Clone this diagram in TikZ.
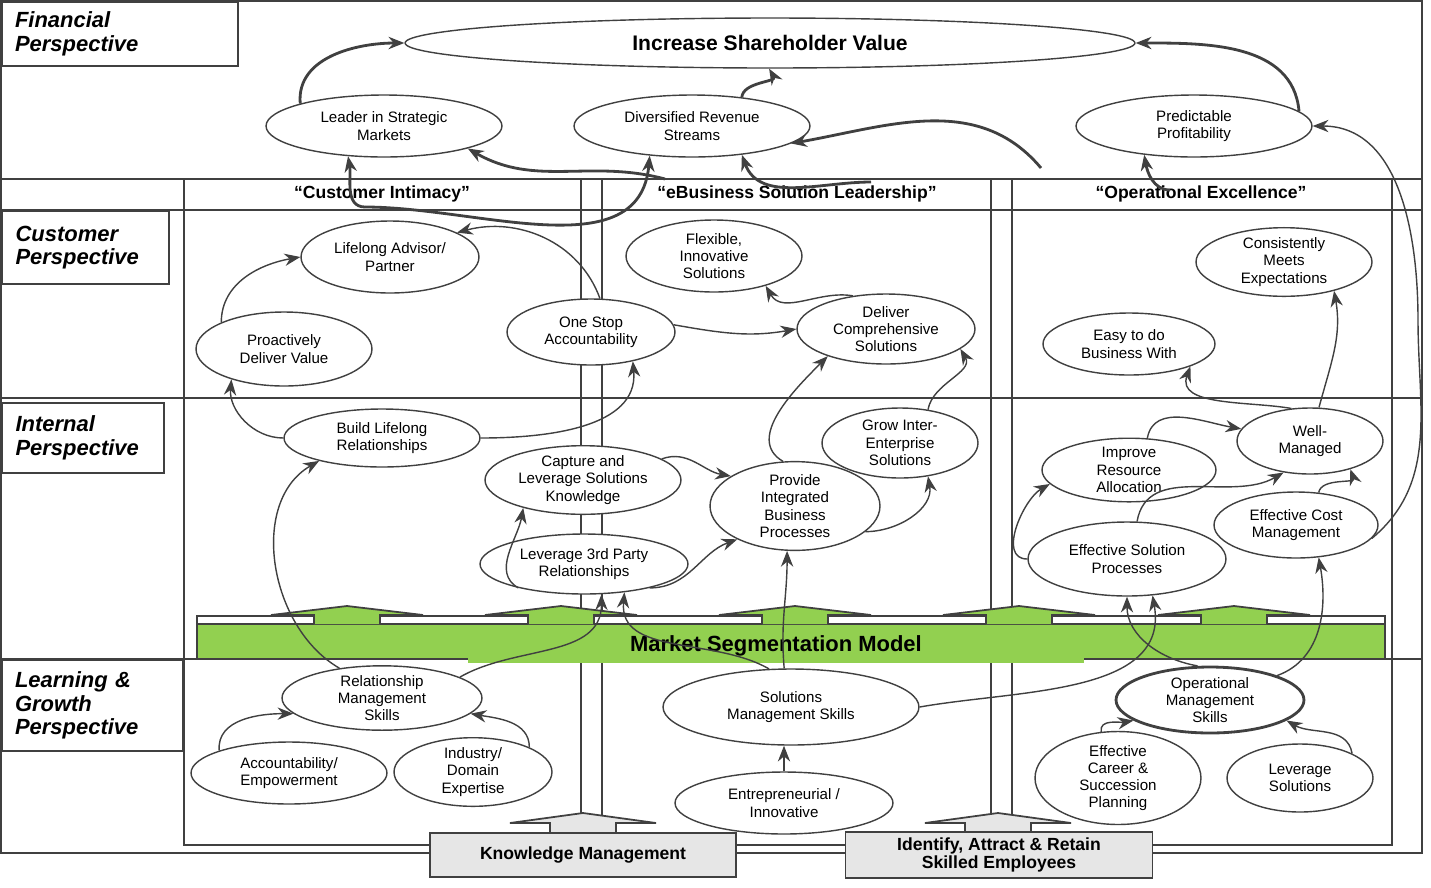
\documentclass[tikz,border=0pt]{standalone}
\usepackage{fontspec}
\setmainfont{Liberation Sans}
\usetikzlibrary{shapes.geometric,arrows.meta}

\definecolor{lineGray}{HTML}{404040}
\definecolor{bandGreen}{HTML}{92D050}
\definecolor{boxGray}{HTML}{E6E6E6}

\begin{document}
\begin{tikzpicture}[x=0.02cm, y=-0.02cm,
    goal/.style={ellipse, draw=lineGray, thick, fill=white, inner sep=0pt, align=center,
        font=\fontsize{8.6}{9.8}\selectfont},
    persp/.style={draw=lineGray, line width=1.2pt, fill=white, anchor=north west, align=left,
        inner sep=0pt, font=\fontsize{12.5}{13.5}\selectfont\bfseries\itshape},
    head/.style={font=\fontsize{10}{11}\selectfont\bfseries},
    link/.style={-{Stealth[length=9pt,width=7pt]}, draw=lineGray, line width=0.8pt},
    big/.style={link, line width=1.6pt},
    uparrow/.style={draw=lineGray, line width=1pt, fill=bandGreen}]
    \useasboundingbox (0,0) rectangle (1431,887);

    % Frame and grid
    \draw[lineGray, line width=1pt] (1,1) rectangle (1422,853);
    \draw[lineGray, line width=1pt] (184,179) rectangle (1392,845);
    \foreach \y in {179,210,398,659}
        \draw[lineGray, line width=1pt] (1,\y) -- (1422,\y);
    \foreach \x in {581,602,991,1012}
        \draw[lineGray, line width=1pt] (\x,179) -- (\x,845);

    % Perspectives
    \node[persp, minimum width=4.72cm, minimum height=1.28cm, text width=4.6cm] (fin) at (1,1) {\hspace{0.2cm}Financial\\\hspace{0.2cm}Perspective};
    \node[persp, minimum width=3.34cm, minimum height=1.46cm, text width=3.2cm] (cus) at (1,210) {\hspace{0.2cm}Customer\\\hspace{0.2cm}Perspective};
    \node[persp, minimum width=3.24cm, minimum height=1.40cm, text width=3.1cm] (int) at (1,402) {\hspace{0.2cm}Internal\\\hspace{0.2cm}Perspective};
    \node[persp, minimum width=3.62cm, minimum height=1.82cm, text width=3.5cm] (lrn) at (1,659) {\hspace{0.2cm}Learning \&\\\hspace{0.2cm}Growth\\\hspace{0.2cm}Perspective};

    % Column headers
    \node[head] (h1) at (382,194) {“Customer Intimacy”};
    \node[head] (h2) at (797,194) {“eBusiness Solution Leadership”};
    \node[head] (h3) at (1201,194) {“Operational Excellence”};

    % Market segmentation band
    \draw[lineGray, line width=1pt, fill=white] (197,616) rectangle (1385,624);
    \draw[uparrow] (197,624) rectangle (1385,659);
    \foreach \c in {347,561,795,1019,1234}
        \draw[uparrow] (\c-33,624) -- (\c-33,615) -- (\c-76,615) -- (\c,606) -- (\c+76,615) -- (\c+33,615) -- (\c+33,624);
    \fill[bandGreen] (468,626) rectangle (1084,663);
    \node[font=\fontsize{12.5}{14}\selectfont\bfseries] (msm) at (776,646) {Market Segmentation Model};

    % Bottom enablers
    \foreach \c in {583,998}
        \draw[draw=lineGray, line width=1pt, fill=boxGray] (\c-33,833) -- (\c-33,823) -- (\c-73,823) -- (\c,813) -- (\c+73,823) -- (\c+33,823) -- (\c+33,833);
    \node[draw=lineGray, line width=1pt, fill=boxGray, minimum width=6.12cm, minimum height=0.88cm,
        font=\fontsize{10}{11}\selectfont\bfseries] (km) at (583,855) {Knowledge Management};
    \node[draw=lineGray, line width=1pt, fill=boxGray, minimum width=6.14cm, minimum height=0.88cm, align=center,
        font=\fontsize{10}{10.5}\selectfont\bfseries] (iar) at (999,855) {Identify, Attract \& Retain\\Skilled Employees};

    % Financial
    \node[goal, minimum width=14.6cm, minimum height=1.0cm, font=\fontsize{12}{13}\selectfont\bfseries] (isv) at (770,43) {Increase Shareholder Value};
    \node[goal, minimum width=4.72cm, minimum height=1.24cm] (lsm) at (384,126) {Leader in Strategic\\Markets};
    \node[goal, minimum width=4.72cm, minimum height=1.24cm] (drs) at (692,126) {Diversified Revenue\\Streams};
    \node[goal, minimum width=4.72cm, minimum height=1.24cm] (pp) at (1194,126) {Predictable\\Profitability};

    % Customer
    \node[goal, minimum width=3.56cm, minimum height=1.44cm] (lap) at (390,257) {Lifelong Advisor/\\Partner};
    \node[goal, minimum width=3.52cm, minimum height=1.48cm] (pdv) at (284,349) {Proactively\\Deliver Value};
    \node[goal, minimum width=3.36cm, minimum height=1.32cm] (osa) at (591,332) {One Stop\\Accountability};
    \node[goal, minimum width=3.52cm, minimum height=1.44cm] (fis) at (714,256) {Flexible,\\Innovative\\Solutions};
    \node[goal, minimum width=3.56cm, minimum height=1.40cm] (dcs) at (886,329) {Deliver\\Comprehensive\\Solutions};
    \node[goal, minimum width=3.52cm, minimum height=1.24cm] (cme) at (1284,262) {Consistently\\Meets\\Expectations};
    \node[goal, minimum width=3.44cm, minimum height=1.24cm] (edb) at (1129,344) {Easy to do\\Business With};

    % Internal
    \node[goal, minimum width=3.92cm, minimum height=1.16cm] (blr) at (382,438) {Build Lifelong\\Relationships};
    \node[goal, minimum width=3.92cm, minimum height=1.20cm] (cls) at (583,480) {Capture and\\Leverage Solutions\\Knowledge};
    \node[goal, minimum width=3.12cm, minimum height=1.40cm] (gie) at (900,443) {Grow Inter-\\Enterprise\\Solutions};
    \node[goal, minimum width=3.40cm, minimum height=1.52cm] (pib) at (795,506) {Provide\\Integrated\\Business\\Processes};
    \node[goal, minimum width=4.16cm, minimum height=1.20cm] (ltp) at (584,564) {Leverage 3rd Party\\Relationships};
    \node[goal, minimum width=3.48cm, minimum height=1.24cm] (ira) at (1129,470) {Improve\\Resource\\Allocation};
    \node[goal, minimum width=2.92cm, minimum height=1.32cm] (wm) at (1310,441) {Well-\\Managed};
    \node[goal, minimum width=3.28cm, minimum height=1.32cm] (ecm) at (1296,525) {Effective Cost\\Management};
    \node[goal, minimum width=3.96cm, minimum height=1.48cm] (esp) at (1127,559) {Effective Solution\\Processes};

    % Learning & growth
    \node[goal, minimum width=4.0cm, minimum height=1.28cm] (rms) at (382,698) {Relationship\\Management\\Skills};
    \node[goal, minimum width=3.92cm, minimum height=1.24cm] (ace) at (289,773) {Accountability/\\Empowerment};
    \node[goal, minimum width=3.16cm, minimum height=1.24cm] (ide) at (473,772) {Industry/\\Domain\\Expertise};
    \node[goal, minimum width=5.12cm, minimum height=1.52cm] (sms) at (791,707) {Solutions\\Management Skills};
    \node[goal, minimum width=4.36cm, minimum height=1.24cm] (eni) at (784,803) {Entrepreneurial /\\Innovative};
    \node[goal, minimum width=3.76cm, minimum height=1.32cm, line width=1.6pt] (oms) at (1210,700) {Operational\\Management\\Skills};
    \node[goal, minimum width=3.32cm, minimum height=1.40cm] (ecs) at (1118,778) {Effective\\Career \&\\Succession\\Planning};
    \node[goal, minimum width=2.92cm, minimum height=1.36cm] (lvs) at (1300,778) {Leverage\\Solutions};

    % Free ends
    \coordinate (ci) at (365,207);
    \coordinate (eb1) at (665,179);
    \coordinate (eb2) at (871,182);
    \coordinate (eb3) at (1041,168);
    \coordinate (oe) at (1170,190);

    % Financial links
    \draw[big] (lsm.165) to[out=95,in=180] (isv.west);
    \draw[big] (drs.30) to[out=85,in=-60] (isv.-92);
    \draw[big] (pp.8) to[out=95,in=0] (isv.east);
    \draw[big] (ci) to[out=180,in=-80] (lsm.-140);
    \draw[big] (ci) to[out=0,in=-95] (drs.-145);
    \draw[big] (eb1) to[out=165,in=-30] (lsm.-15);
    \draw[big] (eb2) to[out=180,in=-70] (drs.-30);
    \draw[big] (eb3) to[out=130,in=10] (drs.-10);
    \draw[big] (oe) to[out=180,in=-80] (pp.-150);

    % Customer links
    \draw[link] (pdv.north west) to[out=90,in=190] (lap.west);
    \draw[link] (osa.75) to[out=110,in=15] (lap.20);
    \draw[link] (osa.5) to[out=-10,in=190] (dcs.west);
    \draw[link] (dcs.135) to[out=170,in=-60] (fis.-30);
    \draw[link] (blr.west) to[out=180,in=-95] (pdv.-150);
    \draw[link] (blr.east) to[out=0,in=-85] (osa.-35);
    \draw[link] (wm.120) to[out=170,in=-110] (edb.-20);
    \draw[link] (wm.75) to[out=75,in=-80] (cme.-30);

    % Internal links
    \draw[link] (pib.105) to[out=150,in=-135] (dcs.-155);
    \draw[link] (gie.50) to[out=80,in=-60] (dcs.-15);
    \draw[link] (cls.15) to[out=20,in=170] (pib.155);
    \draw[link] (ltp.-20) to[out=0,in=-160] (pib.-150);
    \draw[link] (ltp.-160) to[out=150,in=-100] (cls.-155);
    \draw[link] (pib.-20) to[out=0,in=-80] (gie.-50);
    \draw[link] (esp.west) to[out=180,in=-150] (ira.-170);
    \draw[link] (esp.75) to[out=80,in=-150] (wm.-130);
    \draw[link] (ira.60) to[out=80,in=170] (wm.170);
    \draw[link] (ecm.55) to[out=80,in=-70] (wm.-35);
    \draw[link] (ecm.-10) to[out=40,in=-90] (1418,320) to[out=90,in=0] (pp.east);

    % Learning links
    \draw[link] (rms.145) to[out=150,in=-150] (blr.-160);
    \draw[link] (rms.15) to[out=30,in=-90] (ltp.-60);
    \draw[link] (ace.north west) to[out=95,in=180] (rms.-170);
    \draw[link] (ide.north east) to[out=90,in=-10] (rms.-10);
    \draw[link] (eni.north) -- (sms.south -| eni.north);
    \draw[link] (sms.100) to[out=95,in=-90] (pib.-100);
    \draw[link] (sms.120) to[out=150,in=-95] (ltp.-35);
    \draw[link] (sms.east) to[out=10,in=-80] (esp.-55);
    \draw[link] (oms.110) to[out=170,in=-90] (esp.-90);
    \draw[link] (oms.20) to[out=20,in=-80] (ecm.-55);
    \draw[link] (ecs.110) to[out=100,in=-170] (oms.-165);
    \draw[link] (lvs.north east) to[out=100,in=-30] (oms.-15);
\end{tikzpicture}
\end{document}
